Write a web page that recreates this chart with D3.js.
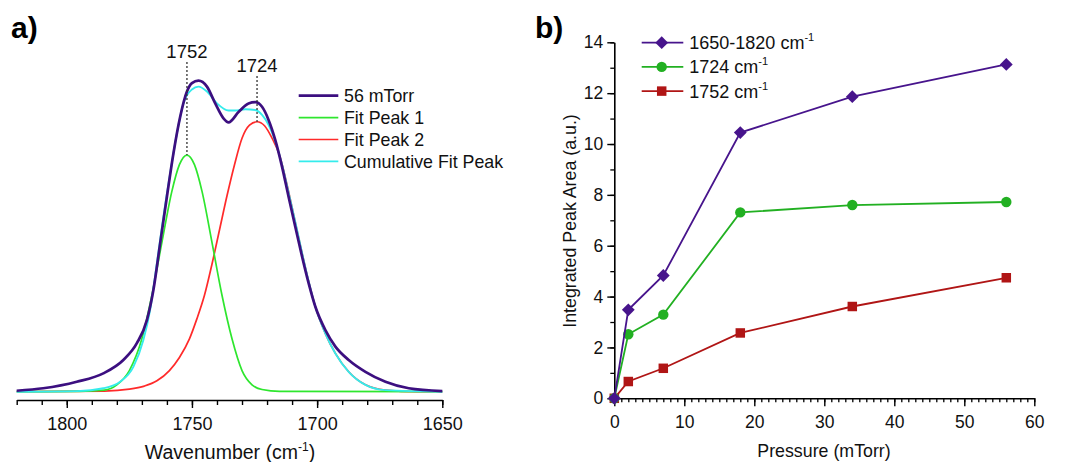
<!DOCTYPE html>
<html>
<head>
<meta charset="utf-8">
<script src="https://cdn.jsdelivr.net/npm/d3@7"></script>
<style>
  body { margin: 0; background: white; }
  svg { display: block; font-family: "Liberation Sans", Arial, sans-serif; }
</style>
</head>
<body>
<svg id="canvas"></svg>
<script>
// panel a: spectrum at 56 mTorr and its two-peak fit, [wavenumber, intensity]
const spectrum56 = [[1820,0.003],[1809.4,0.011],[1796,0.032],[1785.4,0.059],[1777.4,0.102],[1772,0.156],[1768,0.23],[1765.4,0.327],[1762.7,0.477],[1760,0.627],[1757.4,0.766],[1754.7,0.884],[1752,0.965],[1750,0.992],[1747.4,1.0],[1744,0.981],[1740.7,0.927],[1737.4,0.879],[1735.4,0.866],[1731.3,0.9],[1727.4,0.927],[1724.7,0.931],[1722,0.916],[1719.4,0.874],[1716.7,0.809],[1714,0.723],[1711.4,0.627],[1708.7,0.53],[1706,0.434],[1703.4,0.349],[1700.7,0.273],[1696.7,0.198],[1692.7,0.145],[1687.4,0.102],[1680.7,0.064],[1672.7,0.032],[1663.4,0.011],[1650,0.002]];
const fitPeak1 = [[1820,0],[1795,0.001],[1785,0.005],[1780,0.022],[1775,0.068],[1770,0.17],[1766,0.31],[1762,0.48],[1758,0.645],[1755,0.73],[1752,0.761],[1749,0.73],[1746,0.645],[1742,0.48],[1738,0.31],[1734,0.17],[1730,0.068],[1726,0.022],[1722,0.007],[1715,0.001],[1650,0]];
const fitPeak2 = [[1820,0],[1785,0.002],[1775,0.008],[1769,0.018],[1764,0.035],[1759,0.068],[1755,0.11],[1751,0.17],[1748,0.235],[1745,0.31],[1742,0.41],[1739,0.52],[1736,0.63],[1733,0.73],[1730,0.815],[1727,0.857],[1724,0.868],[1721,0.855],[1718,0.815],[1715,0.76],[1712,0.665],[1709,0.555],[1706,0.445],[1703.4,0.355],[1700.7,0.273],[1696.7,0.187],[1692.7,0.123],[1687.4,0.064],[1680.7,0.022],[1672.7,0.005],[1660,0],[1650,0]];
const cumulativeFit = [[1820,0],[1796,0.002],[1785.4,0.011],[1778.7,0.032],[1773.4,0.08],[1769.4,0.166],[1766.7,0.263],[1764,0.413],[1761.4,0.563],[1758.7,0.702],[1756,0.831],[1753.4,0.927],[1750,0.972],[1747.4,0.981],[1744,0.965],[1740,0.927],[1735.4,0.904],[1732.7,0.904],[1728.7,0.908],[1724.7,0.906],[1722,0.89],[1719.4,0.858],[1716.7,0.804],[1714,0.73],[1711.4,0.64],[1708.7,0.545],[1706,0.445],[1703.4,0.355],[1700.7,0.273],[1696.7,0.187],[1692.7,0.123],[1687.4,0.064],[1680.7,0.022],[1672.7,0.005],[1650,0]];
const peakLabels = [1752, 1724];
const wnTicks = [1800, 1750, 1700, 1650];
const legendA = ["56 mTorr", "Fit Peak 1", "Fit Peak 2", "Cumulative Fit Peak"];

// panel b: integrated peak areas vs pressure
const pressure = [0, 2, 7, 18, 34, 56];
const areaTotal = [0, 3.48, 4.83, 10.45, 11.86, 13.13];
const area1724 = [0, 2.52, 3.29, 7.31, 7.60, 7.72];
const area1752 = [0, 0.66, 1.18, 2.57, 3.61, 4.74];
const pressureTicks = [0, 10, 20, 30, 40, 50, 60];
const areaTicks = [0, 2, 4, 6, 8, 10, 12, 14];
const legendB = ["1650-1820", "1724", "1752"];

const svg = d3.select("#canvas").attr("width", 1070).attr("height", 462);

// ---------------- panel a ----------------
const xA = d3.scaleLinear().domain([1820, 1650]).range([16.7, 442.3]);
const yA = d3.scaleLinear().domain([0, 1]).range([391.7, 80.7]);

const lineA = d3.line().x(d => xA(d[0])).y(d => yA(d[1])).curve(d3.curveMonotoneX);

const seriesA = [
    { data: fitPeak2, color: "#ff2a2a", width: 1.7 },
    { data: fitPeak1, color: "#2ee62e", width: 1.7 },
    { data: cumulativeFit, color: "#35ecec", width: 1.9 },
    { data: spectrum56, color: "#3c0f80", width: 2.7 }
];
seriesA.forEach(s => {
    svg.append("path").datum(s.data)
        .attr("d", lineA)
        .attr("fill", "none")
        .attr("stroke", s.color)
        .attr("stroke-width", s.width);
});

// dotted markers for the fitted peak positions
const peakTops = [d3.max(fitPeak1, d => d[1]), d3.max(fitPeak2, d => d[1])];
const labelY = [58, 72];
peakLabels.forEach((p, i) => {
    svg.append("line")
        .attr("x1", xA(p)).attr("x2", xA(p))
        .attr("y1", labelY[i] + 4).attr("y2", yA(peakTops[i]))
        .attr("stroke", "#333").attr("stroke-width", 1.3)
        .attr("stroke-dasharray", "2,2");
    svg.append("text")
        .attr("x", xA(p)).attr("y", labelY[i])
        .attr("text-anchor", "middle")
        .style("font-size", "18.5px").style("fill", "#111")
        .text(p);
});

// x axis a
svg.append("g")
    .attr("transform", "translate(0,400)")
    .call(d3.axisBottom(xA).tickValues(xA.ticks(17)).tickSize(5).tickSizeOuter(0).tickFormat(""))
    .call(g => g.select(".domain").attr("stroke-width", 1.6))
    .call(g => g.selectAll("line").attr("stroke-width", 1.4));
svg.append("g")
    .attr("transform", "translate(0,400)")
    .call(d3.axisBottom(xA).tickValues(wnTicks).tickSize(8).tickSizeOuter(0).tickPadding(9).tickFormat(d3.format("d")))
    .call(g => g.select(".domain").remove())
    .call(g => g.selectAll("line").attr("stroke-width", 1.4))
    .call(g => g.selectAll("text").style("font-size", "18px").style("fill", "#111").style("font-family", "inherit"));

const titleA = svg.append("text")
    .attr("x", 230).attr("y", 459)
    .attr("text-anchor", "middle")
    .style("font-size", "19.5px").style("fill", "#111");
titleA.append("tspan").text("Wavenumber (cm");
titleA.append("tspan").attr("dy", -8).style("font-size", "12px").text("-1");
titleA.append("tspan").attr("dy", 8).text(")");

// legend a
legendA.forEach((name, i) => {
    const y = 95.7 + i * 21.9;
    const s = seriesA[[3, 1, 0, 2][i]];
    svg.append("line")
        .attr("x1", 298.7).attr("x2", 338.3).attr("y1", y).attr("y2", y)
        .attr("stroke", s.color).attr("stroke-width", s.width);
    svg.append("text")
        .attr("x", 344).attr("y", y).attr("dy", "0.36em")
        .style("font-size", "17.8px").style("fill", "#111")
        .text(name);
});

svg.append("text").attr("x", 11).attr("y", 38)
    .style("font-size", "30px").style("font-weight", "bold").text("a)");

// ---------------- panel b ----------------
const xB = d3.scaleLinear().domain([0, 60]).range([614.3, 1034.3]);
const yB = d3.scaleLinear().domain([0, 14]).range([398.3, 42.3]);

svg.append("g")
    .attr("transform", "translate(0,398.3)")
    .call(d3.axisBottom(xB).tickValues(xB.ticks(60)).tickSize(4).tickSizeOuter(0).tickFormat(""))
    .call(g => g.select(".domain").attr("stroke-width", 1.6))
    .call(g => g.selectAll("line").attr("stroke-width", 1.3));
svg.append("g")
    .attr("transform", "translate(0,398.3)")
    .call(d3.axisBottom(xB).tickValues(pressureTicks).tickSize(8).tickSizeOuter(0).tickPadding(9))
    .call(g => g.select(".domain").remove())
    .call(g => g.selectAll("line").attr("stroke-width", 1.4))
    .call(g => g.selectAll("text").style("font-size", "17.5px").style("fill", "#111").style("font-family", "inherit"));

svg.append("g")
    .attr("transform", "translate(614.3,0)")
    .call(d3.axisLeft(yB).tickValues(yB.ticks(14)).tickSize(4).tickSizeOuter(0).tickFormat(""))
    .call(g => g.select(".domain").attr("stroke-width", 1.6))
    .call(g => g.selectAll("line").attr("stroke-width", 1.3));
svg.append("g")
    .attr("transform", "translate(614.3,0)")
    .call(d3.axisLeft(yB).tickValues(areaTicks).tickSize(7).tickSizeOuter(0).tickPadding(4))
    .call(g => g.select(".domain").remove())
    .call(g => g.selectAll("line").attr("stroke-width", 1.4))
    .call(g => g.selectAll("text").style("font-size", "17.5px").style("fill", "#111").style("font-family", "inherit"));

svg.append("text")
    .attr("x", 824).attr("y", 457)
    .attr("text-anchor", "middle")
    .style("font-size", "17.8px").style("fill", "#111")
    .text("Pressure (mTorr)");
svg.append("text")
    .attr("transform", "rotate(-90)")
    .attr("x", -221).attr("y", 570).attr("dy", "0.36em")
    .attr("text-anchor", "middle")
    .style("font-size", "17.8px").style("fill", "#111")
    .text("Integrated Peak Area (a.u.)");

const seriesB = [
    { values: area1752, color: "#b01515", symbol: d3.symbolSquare, size: 90, rot: 0 },
    { values: area1724, color: "#22b022", symbol: d3.symbolCircle, size: 85, rot: 0 },
    { values: areaTotal, color: "#47148c", symbol: d3.symbolSquare, size: 82, rot: 45 }
];
const lineB = d3.line().x(d => xB(d[0])).y(d => yB(d[1]));

seriesB.forEach(s => {
    const pts = pressure.map((p, i) => [p, s.values[i]]);
    svg.append("path").datum(pts)
        .attr("d", lineB)
        .attr("fill", "none")
        .attr("stroke", s.color)
        .attr("stroke-width", 1.8);
    svg.append("g").selectAll("path")
        .data(pts)
        .enter()
        .append("path")
        .attr("transform", d => "translate(" + xB(d[0]) + "," + yB(d[1]) + ") rotate(" + s.rot + ")")
        .attr("d", d3.symbol().type(s.symbol).size(s.size))
        .attr("fill", s.color);
});

// legend b
legendB.forEach((name, i) => {
    const y = 42.7 + i * 24.2;
    const s = seriesB[2 - i];
    svg.append("line")
        .attr("x1", 641.7).attr("x2", 683.3).attr("y1", y).attr("y2", y)
        .attr("stroke", s.color).attr("stroke-width", 1.8);
    svg.append("path")
        .attr("transform", "translate(661.7," + y + ") rotate(" + s.rot + ")")
        .attr("d", d3.symbol().type(s.symbol).size(s.size))
        .attr("fill", s.color);
    const t = svg.append("text")
        .attr("x", 689.3).attr("y", y).attr("dy", "0.36em")
        .style("font-size", "18px").style("fill", "#111");
    t.append("tspan").text(name + " cm");
    t.append("tspan").attr("dy", -8).style("font-size", "11px").text("-1");
});

svg.append("text").attr("x", 535).attr("y", 38)
    .style("font-size", "30px").style("font-weight", "bold").text("b)");
</script>
</body>
</html>
